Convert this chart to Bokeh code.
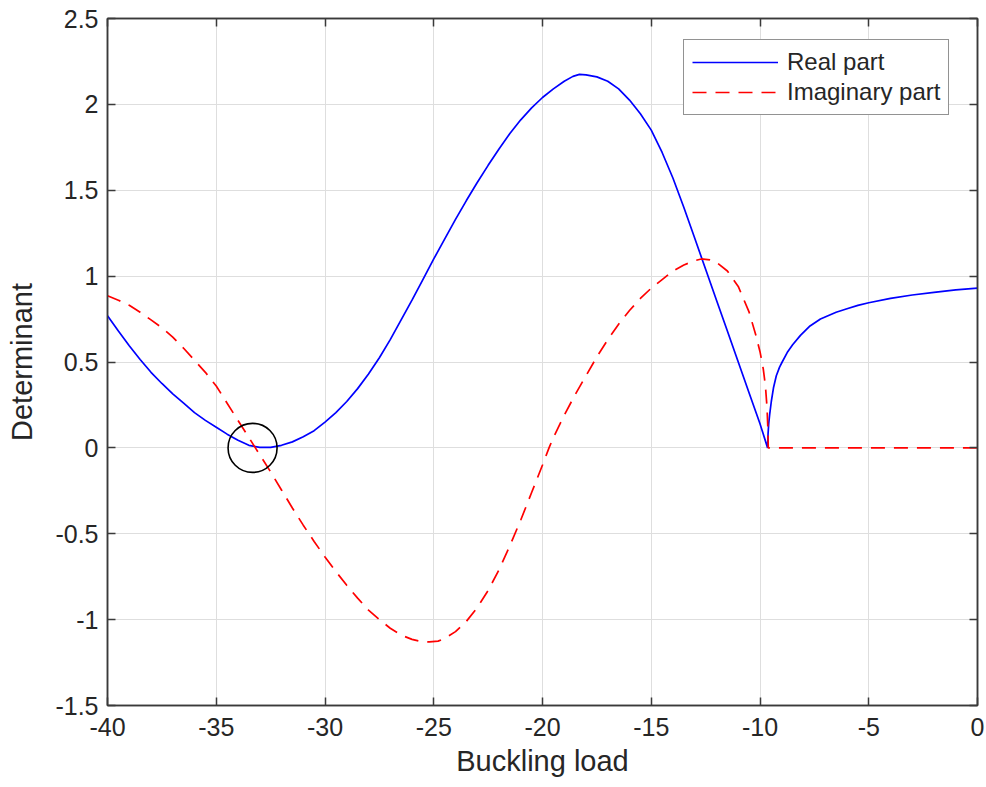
from bokeh.plotting import figure
from bokeh.models import Range1d, FixedTicker, LinearAxis, Legend, LegendItem
from bokeh.embed import file_html
from bokeh.resources import INLINE

# ---- data ----
real_x = [-40, -39.5, -39, -38.5, -38, -37.5, -37, -36.5, -36, -35.5, -35, -34.5, -34, -33.5,
          -33, -32.5, -32, -31.5, -31, -30.5, -30, -29.5, -29, -28.5, -28, -27.5, -27, -26.5,
          -26, -25.5, -25, -24.5, -24, -23.5, -23, -22.5, -22, -21.5, -21, -20.5, -20, -19.5,
          -19, -18.6, -18.3, -18, -17.5, -17, -16.5, -16, -15.5, -15, -14.5, -14, -13.5, -13,
          -12.5, -12, -11.5, -11, -10.5, -10, -9.65,
          -9.63, -9.6, -9.55, -9.48, -9.38, -9.25, -9.1, -8.98, -8.75, -8.5, -8.14, -7.7,
          -7.22, -6.5, -6, -5.5, -5, -4, -3, -2, -1, 0]
real_y = [0.77, 0.68, 0.595, 0.515, 0.44, 0.375, 0.315, 0.26, 0.205, 0.16, 0.12, 0.08, 0.045,
          0.015, 0.003, 0.003, 0.015, 0.035, 0.065, 0.1, 0.15, 0.205, 0.27, 0.345, 0.43, 0.525,
          0.63, 0.745, 0.86, 0.98, 1.1, 1.215, 1.33, 1.44, 1.545, 1.645, 1.74, 1.83, 1.91, 1.98,
          2.04, 2.09, 2.135, 2.163, 2.175, 2.172, 2.16, 2.135, 2.09, 2.025, 1.945, 1.85, 1.72,
          1.57, 1.4, 1.22, 1.04, 0.86, 0.68, 0.5, 0.32, 0.14, 0.0,
          0.08, 0.14, 0.2, 0.27, 0.35, 0.42, 0.47, 0.5, 0.555, 0.6, 0.655, 0.71,
          0.75, 0.79, 0.81, 0.83, 0.845, 0.87, 0.89, 0.905, 0.92, 0.93]

imag_x = [-40, -39.5, -39, -38.5, -38, -37.5, -37, -36.5, -36, -35.5, -35, -34.5, -34, -33.5,
          -33.2, -33, -32.5, -32, -31.5, -31, -30.5, -30, -29.5, -29, -28.5, -28, -27.5, -27,
          -26.5, -26, -25.6, -25.2, -24.8, -24.5, -24, -23.5, -23, -22.5, -22, -21.5, -21,
          -20.5, -20, -19.7, -19.5, -19, -18.5, -18, -17.5, -17, -16.5, -16, -15.5, -15, -14.5,
          -14, -13.5, -13, -12.7, -12.3, -12, -11.5, -11, -10.5, -10.2, -10, -9.85, -9.75,
          -9.68, -9.64, -9.62, -8, -5, 0]
imag_y = [0.886, 0.86, 0.83, 0.79, 0.745, 0.7, 0.645, 0.58, 0.51, 0.44, 0.36, 0.26, 0.16, 0.06,
          0.0, -0.04, -0.14, -0.245, -0.35, -0.45, -0.545, -0.635, -0.72, -0.8, -0.875, -0.945,
          -1.0, -1.05, -1.09, -1.115, -1.127, -1.13, -1.125, -1.11, -1.07, -1.01, -0.93, -0.83,
          -0.71, -0.57, -0.42, -0.26, -0.1, 0.0, 0.06, 0.19, 0.31, 0.42, 0.53, 0.63, 0.72,
          0.8, 0.87, 0.93, 0.98, 1.03, 1.065, 1.09, 1.1, 1.095, 1.08, 1.03, 0.94, 0.79, 0.66,
          0.56, 0.46, 0.36, 0.24, 0.12, 0.0, 0.0, 0.0, 0.0]

circle_x = [-33.33]
circle_y = [0.0]

x_ticks = [-40, -35, -30, -25, -20, -15, -10, -5, 0]
y_ticks = [-1.5, -1, -0.5, 0, 0.5, 1, 1.5, 2, 2.5]
x_tick_labels = ["-40", "-35", "-30", "-25", "-20", "-15", "-10", "-5", "0"]
y_tick_labels = ["-1.5", "-1", "-0.5", "0", "0.5", "1", "1.5", "2", "2.5"]

FONT = "Liberation Sans"
TXT = "#262626"
AX = "#3a3a3a"

p = figure(width=986, height=787, output_backend="svg", toolbar_location=None,
           x_range=Range1d(-40, 0), y_range=Range1d(-1.5, 2.5),
           min_border_left=107, min_border_right=9, min_border_top=18, min_border_bottom=82,
           x_axis_label="Buckling load", y_axis_label="Determinant")
p.outline_line_color = AX
p.outline_line_width = 1.5

p.xaxis.ticker = FixedTicker(ticks=x_ticks)
p.yaxis.ticker = FixedTicker(ticks=y_ticks)
p.xaxis.major_label_overrides = {float(t): s for t, s in zip(x_ticks, x_tick_labels)}
p.yaxis.major_label_overrides = {float(t): s for t, s in zip(y_ticks, y_tick_labels)}
p.xgrid.ticker = FixedTicker(ticks=x_ticks)
p.ygrid.ticker = FixedTicker(ticks=y_ticks)
p.grid.grid_line_color = "#dedede"
p.grid.grid_line_width = 1

for ax in [p.xaxis[0], p.yaxis[0]]:
    ax.major_label_text_font = FONT
    ax.major_label_text_font_size = "25px"
    ax.major_label_text_color = TXT
    ax.axis_label_text_font = FONT
    ax.axis_label_text_font_size = "29px"
    ax.axis_label_text_font_style = "normal"
    ax.axis_label_text_color = TXT
    ax.axis_line_color = AX
    ax.axis_line_width = 1.5
    ax.major_tick_line_color = AX
    ax.major_tick_line_width = 1.5
    ax.major_tick_in = 8
    ax.major_tick_out = 0
    ax.minor_tick_line_color = None
p.xaxis.major_label_standoff = 12
p.xaxis.axis_label_standoff = 6
p.yaxis.major_label_standoff = 9
p.yaxis.axis_label_standoff = 14


def tick_only_axis(ticks):
    return LinearAxis(ticker=FixedTicker(ticks=ticks), major_label_text_font_size="1px",
                      major_label_text_color=None, major_label_standoff=0,
                      major_tick_in=8, major_tick_out=0, minor_tick_line_color=None,
                      axis_line_color=AX, axis_line_width=1.5,
                      major_tick_line_color=AX, major_tick_line_width=1.5)


p.add_layout(tick_only_axis(x_ticks), "above")
p.add_layout(tick_only_axis(y_ticks), "right")

r_real = p.line(real_x, real_y, line_color="#0000ff", line_width=1.7)
r_imag = p.line(imag_x, imag_y, line_color="#ff0000", line_width=1.7, line_dash="14 9")
p.scatter(circle_x, circle_y, marker="circle", size=49, fill_color=None,
          line_color="#000000", line_width=1.6)

legend = Legend(items=[LegendItem(label="Real part", renderers=[r_real]),
                       LegendItem(label="Imaginary part", renderers=[r_imag])],
                location=(576, 590), margin=0, padding=8, spacing=2,
                glyph_width=86, glyph_height=26, label_standoff=9,
                label_text_font=FONT, label_text_font_size="24px", label_text_color=TXT,
                border_line_color="#262626", border_line_width=1.5,
                background_fill_color="white", background_fill_alpha=1.0)
p.add_layout(legend, "center")

open("out.html", "w").write(file_html(p, INLINE))
